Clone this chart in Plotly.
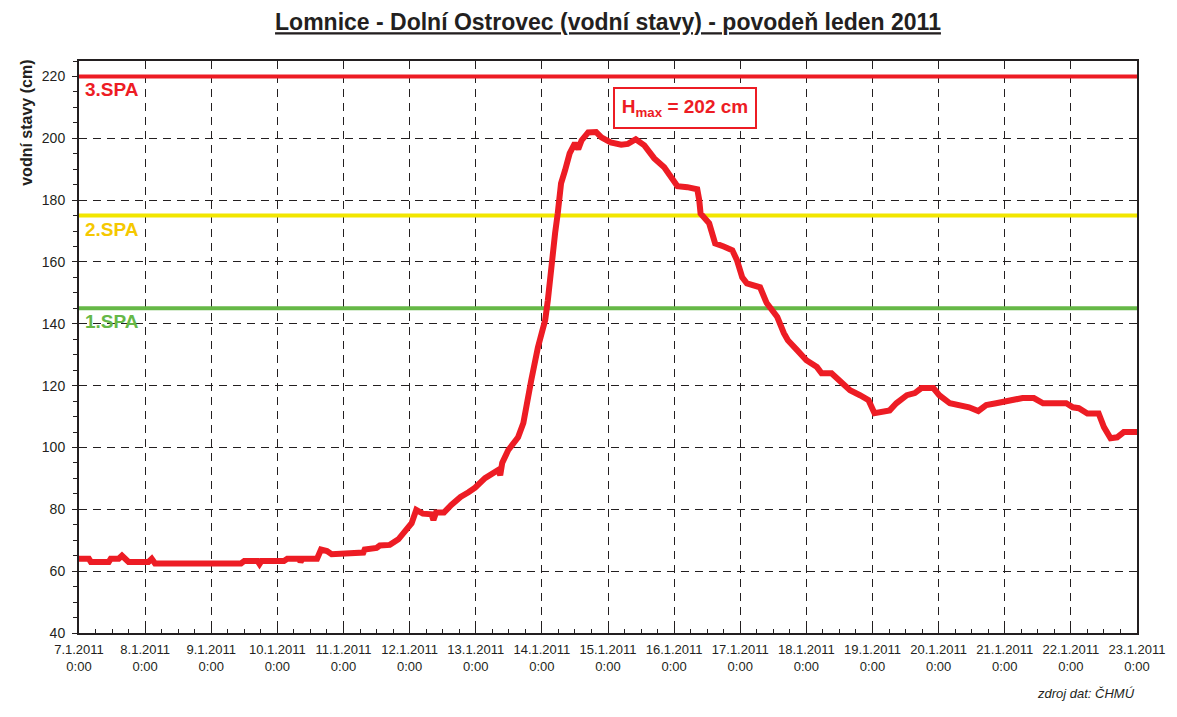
import plotly.graph_objects as go
import pandas as pd

# water level readings: offset from 7.1.2011 0:00 in days, level in cm
offset_days = [
    0.00, 0.15, 0.18, 0.45, 0.48, 0.60, 0.65, 0.70, 0.75, 1.05, 1.10, 1.15,
    2.45, 2.50, 2.70, 2.73, 2.76, 3.10, 3.15, 3.33, 3.35, 3.38, 3.60, 3.66,
    3.75, 3.82, 4.30, 4.32, 4.50, 4.55, 4.70, 4.83, 4.94, 5.03, 5.10, 5.20,
    5.33, 5.36, 5.40, 5.52, 5.63, 5.77, 5.89, 5.99, 6.14, 6.30, 6.34, 6.37,
    6.40, 6.49, 6.64, 6.72, 6.76, 6.84, 6.94, 7.05, 7.09, 7.14, 7.20, 7.24,
    7.29, 7.35, 7.42, 7.50, 7.55, 7.60, 7.70, 7.82, 7.90, 8.04, 8.20, 8.30,
    8.42, 8.55, 8.70, 8.85, 8.95, 9.05, 9.20, 9.35, 9.38, 9.40, 9.53, 9.62,
    9.75, 9.88, 9.95, 10.03, 10.10, 10.30, 10.40, 10.56, 10.66, 10.72, 10.86,
    11.00, 11.16, 11.23, 11.38, 11.50, 11.66, 11.81, 11.94, 12.03, 12.16,
    12.26, 12.36, 12.52, 12.64, 12.74, 12.92, 13.01, 13.17, 13.31, 13.46,
    13.60, 13.72, 13.87, 14.12, 14.27, 14.44, 14.58, 14.93, 15.03, 15.12,
    15.25, 15.42, 15.50, 15.60, 15.70, 15.80, 16.00,
]
level_cm = [
    64, 64, 63, 63, 64, 64, 65, 64, 63, 63, 64, 62.5,
    62.5, 63.3, 63.3, 62.3, 63.3, 63.3, 64, 64, 63, 64, 64, 67,
    66.5, 65.5, 66, 67, 67.5, 68.3, 68.5, 70.3, 73.3, 75.5, 79.8, 78.6,
    78.4, 76.5, 79, 79, 81.4, 84, 85.5, 87, 90.1, 92, 92.7, 91,
    95, 99.1, 103.3, 107.9, 113, 121.8, 132.4, 141.2, 147.6, 159.6, 169.3, 175.7,
    185.4, 189.6, 195.1, 198.4, 196.5, 199.3, 201.9, 202, 200.3, 198.7, 197.9, 198.2,
    199.7, 197.7, 193.5, 190.6, 187.4, 184.5, 184.2, 183.5, 180, 175.7, 172.5, 166,
    165, 163.8, 160.6, 155, 153.1, 151.8, 146.7, 142.2, 137, 134.7, 131.5,
    128.2, 126, 124, 124, 121.8, 118.5, 116.9, 115.3, 111.1, 111.4,
    112, 114.3, 116.9, 117.6, 119.2, 119.2, 116.9, 114.3, 113.7, 113,
    111.8, 113.7, 114.3, 115.3, 116, 116, 114.3, 114.3, 113, 112.7,
    111, 111, 106.6, 103, 103.3, 105, 105,
]

# flood activity levels (stupně povodňové aktivity)
spa_names = ['1.SPA', '2.SPA', '3.SPA']
spa_levels = [145, 175, 220]
spa_line_colors = ['#66b847', '#f2e600', '#ed1c24']
spa_text_colors = ['#66b847', '#f5c800', '#ed1c24']

h_max = 202
start = pd.Timestamp('2011-01-07 00:00')
end = pd.Timestamp('2011-01-23 00:00')

times = start + pd.to_timedelta(offset_days, unit='D')
tick_days = pd.date_range(start, end, freq='D')
tick_text = [f'{d.day}.{d.month}.{d.year}<br>0:00' for d in tick_days]

fig = go.Figure()

for name, lvl, c in zip(spa_names, spa_levels, spa_line_colors):
    fig.add_trace(go.Scatter(x=[start, end], y=[lvl, lvl], mode='lines',
                             line=dict(color=c, width=4), hoverinfo='skip', name=name))

fig.add_trace(go.Scatter(x=times, y=level_cm, mode='lines', name='vodní stav',
                         line=dict(color='#ed1c24', width=6)))

for name, lvl, c in zip(spa_names, spa_levels, spa_text_colors):
    fig.add_annotation(x=0.004, xref='paper', y=lvl, yref='y', text='<b>' + name + '</b>',
                       showarrow=False, xanchor='left', yanchor='top', yshift=-1,
                       font=dict(size=19, color=c, family='Liberation Sans'))

fig.add_annotation(x=start + pd.Timedelta(hours=9.17 * 24), y=209.7,
                   text='<b>H<sub>max</sub> = ' + str(h_max) + ' cm</b>',
                   showarrow=False, font=dict(size=19, color='#ed1c24', family='Liberation Sans'),
                   bordercolor='#ed1c24', borderwidth=2, borderpad=2, bgcolor='white',
                   width=136, height=34)

fig.add_annotation(x=0, xref='paper', xshift=-52, xanchor='center',
                   y=0.892, yref='paper', yanchor='middle',
                   text='<b>vodní stavy (cm)</b>', textangle=-90, showarrow=False,
                   font=dict(size=16, color='#231f20', family='Liberation Sans'))

fig.add_annotation(x=1, xref='paper', y=-0.105, yref='paper', xanchor='right', yanchor='middle',
                   text='<i>zdroj dat: ČHMÚ</i>', showarrow=False,
                   font=dict(size=13, color='#231f20', family='Liberation Sans'))

# page body has an 8px margin, so the figure is 8px smaller than the window
fig.update_layout(
    width=1169, height=709,
    margin=dict(l=71, r=36, t=53, b=84),
    paper_bgcolor='white', plot_bgcolor='white',
    showlegend=False,
    font=dict(family='Liberation Sans', color='#231f20'),
    title=dict(text='<b><u>Lomnice - Dolní Ostrovec (vodní stavy) - povodeň leden 2011</u></b>',
               x=0.5, xref='paper', y=0.98, yanchor='middle',
               font=dict(size=23, color='#231f20', family='Liberation Sans')),
)

fig.update_xaxes(
    range=[start, end], tickvals=tick_days, ticktext=tick_text,
    tickfont=dict(size=13), ticks='inside', ticklen=8, tickcolor='#231f20',
    ticklabelstandoff=3,
    minor=dict(dtick=6 * 3600 * 1000, ticks='inside', ticklen=4, tickcolor='#231f20', showgrid=False),
    showgrid=True, gridcolor='#231f20', gridwidth=1, griddash='8px,6px',
    showline=True, linecolor='#231f20', linewidth=2, mirror=True, zeroline=False,
)
fig.update_yaxes(
    range=[40, 225], tickvals=list(range(40, 221, 20)),
    tickfont=dict(size=14), ticks='outside', ticklen=5, tickcolor='#231f20',
    ticklabelstandoff=4,
    minor=dict(dtick=5, ticks='outside', ticklen=4, tickcolor='#231f20', showgrid=False),
    showgrid=True, gridcolor='#231f20', gridwidth=1, griddash='8px,6px',
    showline=True, linecolor='#231f20', linewidth=2, mirror=True, zeroline=False,
)

fig.write_html('out.html')
